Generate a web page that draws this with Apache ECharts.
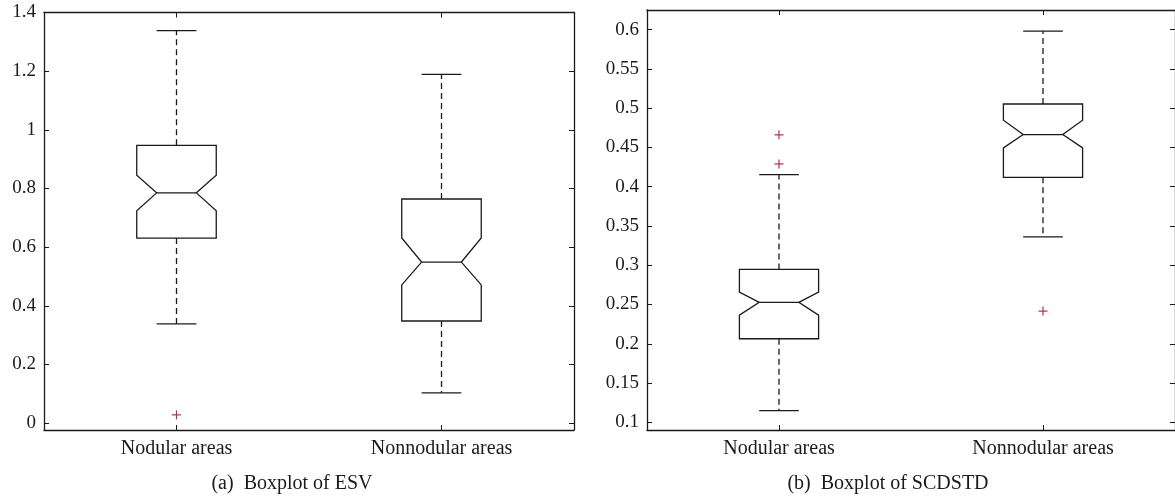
<!DOCTYPE html>
<html>
<head>
<meta charset="utf-8">
<script src="https://cdn.jsdelivr.net/npm/echarts@6/dist/echarts.min.js"></script>
<style>
html,body{margin:0;padding:0;background:#fff;}
#main{width:1175px;height:500px;}
</style>
</head>
<body>
<div id="main"></div>
<script>
// ---- data ----
const categories = ['Nodular areas', 'Nonnodular areas'];
// each: [lowerWhisker, Q1, notchLow, median, notchHigh, Q3, upperWhisker]
const esvStats = [
  [0.338, 0.631, 0.724, 0.785, 0.845, 0.947, 1.338],
  [0.103, 0.348, 0.471, 0.549, 0.631, 0.764, 1.189]
];
const esvOutliers = [[0, 0.028]];
const scdStats = [
  [0.1148, 0.2064, 0.2365, 0.2527, 0.2658, 0.2947, 0.4155],
  [0.336, 0.412, 0.4494, 0.4664, 0.4846, 0.5053, 0.598]
];
const scdOutliers = [[0, 0.466], [0, 0.429], [1, 0.2416]];
const esvTicks = [0, 0.2, 0.4, 0.6, 0.8, 1, 1.2, 1.4];
const scdTicks = [0.1, 0.15, 0.2, 0.25, 0.3, 0.35, 0.4, 0.45, 0.5, 0.55, 0.6];
const captions = ['(a)  Boxplot of ESV', '(b)  Boxplot of SCDSTD'];

const FONT = 'Liberation Serif';
const INK = '#1a1a1a';
const OUT = '#b5304e';

function boxRender(params, api) {
  const c = api.value(0);
  const v = [1,2,3,4,5,6,7].map(i => api.value(i));
  const catW = api.size([1, 0])[0];
  const bw = catW * 0.3;
  const half = bw / 2;
  const ins = bw * 0.25;
  const y = v.map(val => api.coord([c, val])[1]);
  const x = api.coord([c, v[3]])[0];
  const [ylw, yq1, ynl, ymed, ynh, yq3, yuw] = y;
  const L = x - half, R = x + half;
  const ls = {stroke: INK, lineWidth: 1.3, fill: null};
  const dash = {stroke: INK, lineWidth: 1.3, lineDash: [6, 4]};
  const capH = bw / 4;
  return {
    type: 'group',
    children: [
      {type: 'polygon', shape: {points: [
        [L, yq3], [R, yq3], [R, ynh], [R - ins, ymed], [R, ynl], [R, yq1],
        [L, yq1], [L, ynl], [L + ins, ymed], [L, ynh]
      ]}, style: {stroke: INK, lineWidth: 1.3, fill: '#fff'}},
      {type: 'line', shape: {x1: L + ins, y1: ymed, x2: R - ins, y2: ymed}, style: ls},
      {type: 'line', shape: {x1: x, y1: yq3, x2: x, y2: yuw}, style: dash},
      {type: 'line', shape: {x1: x, y1: yq1, x2: x, y2: ylw}, style: dash},
      {type: 'line', shape: {x1: x - capH, y1: yuw, x2: x + capH, y2: yuw}, style: ls},
      {type: 'line', shape: {x1: x - capH, y1: ylw, x2: x + capH, y2: ylw}, style: ls}
    ]
  };
}
function plusRender(params, api) {
  const p = api.coord([api.value(0), api.value(1)]);
  const s = 4.5;
  const st = {stroke: OUT, lineWidth: 1.2};
  return {type: 'group', children: [
    {type: 'line', shape: {x1: p[0] - s, y1: p[1], x2: p[0] + s, y2: p[1]}, style: st},
    {type: 'line', shape: {x1: p[0], y1: p[1] - s, x2: p[0], y2: p[1] + s}, style: st}
  ]};
}

function xAxes(gi) {
  const base = {
    type: 'category', data: categories, gridIndex: gi, boundaryGap: true,
    axisLine: {show: true, onZero: false, lineStyle: {color: INK, width: 1.3}},
    axisTick: {show: true, inside: true, length: 5, alignWithLabel: true, lineStyle: {color: INK}},
    splitLine: {show: false}
  };
  return [
    Object.assign({}, base, {position: 'bottom',
      axisLabel: {show: true, color: INK, fontFamily: FONT, fontSize: 20, margin: 9}}),
    Object.assign({}, base, {position: 'top', axisLabel: {show: false}})
  ];
}
function yAxes(gi, min, max, ticks) {
  const base = {
    type: 'value', gridIndex: gi, min: min, max: max, scale: true,
    axisLine: {show: true, onZero: false, lineStyle: {color: INK, width: 1.3}},
    axisTick: {show: true, inside: true, length: 5, customValues: ticks, lineStyle: {color: INK}},
    splitLine: {show: false}
  };
  return [
    Object.assign({}, base, {position: 'left',
      axisLabel: {show: true, customValues: ticks, color: INK, fontFamily: FONT, fontSize: 19, margin: 8}}),
    Object.assign({}, base, {position: 'right', axisLabel: {show: false}})
  ];
}

const chart = echarts.init(document.getElementById('main'));
chart.setOption({
  animation: false,
  backgroundColor: '#fff',
  grid: [
    {left: 44, top: 12.5, width: 530, height: 417.5},
    {left: 647, top: 10, width: 529, height: 420}
  ],
  xAxis: [].concat(xAxes(0), xAxes(1)),
  yAxis: [].concat(yAxes(0, -0.0236, 1.4, esvTicks), yAxes(1, 0.0902, 0.625, scdTicks)),
  series: [
    {type: 'custom', xAxisIndex: 0, yAxisIndex: 0, renderItem: boxRender,
      data: esvStats.map((s, i) => [i].concat(s)), encode: {x: 0, y: [1,2,3,4,5,6,7]}},
    {type: 'custom', xAxisIndex: 0, yAxisIndex: 0, renderItem: plusRender,
      data: esvOutliers, encode: {x: 0, y: 1}},
    {type: 'custom', xAxisIndex: 2, yAxisIndex: 2, renderItem: boxRender,
      data: scdStats.map((s, i) => [i].concat(s)), encode: {x: 0, y: [1,2,3,4,5,6,7]}},
    {type: 'custom', xAxisIndex: 2, yAxisIndex: 2, renderItem: plusRender,
      data: scdOutliers, encode: {x: 0, y: 1}}
  ],
  graphic: [
    {type: 'text', x: 292, y: 484, style: {text: captions[0], fill: INK, font: '20px "' + FONT + '"', align: 'center', verticalAlign: 'middle'}},
    {type: 'text', x: 888, y: 484, style: {text: captions[1], fill: INK, font: '20px "' + FONT + '"', align: 'center', verticalAlign: 'middle'}}
  ]
});
</script>
</body>
</html>
